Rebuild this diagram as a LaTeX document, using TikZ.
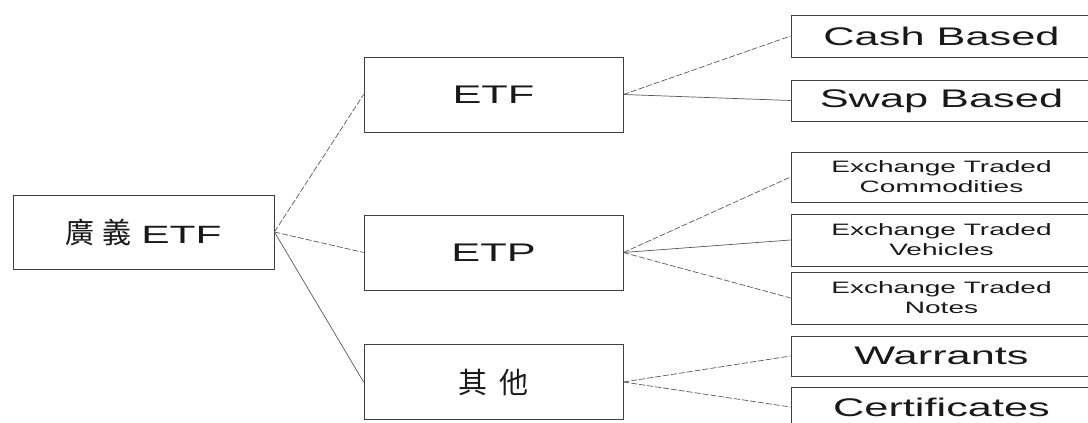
\documentclass[tikz,border=0pt]{standalone}
\usepackage{fontspec}
\usepackage{tikz}
\newfontfamily\cjk{Noto Sans CJK TC}
\newfontfamily\wide[FakeStretch=1.7]{Liberation Sans}
\setmainfont{Liberation Sans}

\begin{document}
\begin{tikzpicture}[x=1pt,y=-1pt,
  box/.style={draw=black!75,line width=0.8pt,inner sep=0pt,minimum width=259pt,minimum height=75pt,text=black!90},
  leaf/.style={draw=black!75,line width=0.8pt,inner sep=0pt,minimum width=301pt,text=black!90,align=center},
  big/.style={font=\wide\fontsize{25.5}{26}\selectfont},
  small/.style={font=\wide\fontsize{16.5}{20}\selectfont},
  link/.style={draw=black!65,line width=0.7pt},
  dlink/.style={link,dash pattern=on 6pt off 2pt}]
\useasboundingbox (0,0) rectangle (1088,423);
\clip (0,0) rectangle (1088,423);

\node[box,minimum width=261pt,minimum height=74pt] (N0) at (143.5,232)
  {{\cjk\fontsize{29}{29}\selectfont 廣\hspace{8pt}義}\hspace{10pt}{\wide\fontsize{25}{25}\selectfont ETF}};
\node[box,big] (N1) at (493.5,94.5) {ETF};
\node[box,big] (N2) at (493.5,252.5) {ETP};
\node[box] (N3) at (493.5,382) {\cjk\fontsize{29}{29}\selectfont 其\hspace{13pt}他};

\node[leaf,big,minimum height=42pt] (N4) at (941.5,36) {Cash Based};
\node[leaf,big,minimum height=41pt] (N5) at (941.5,100.5) {Swap Based};
\node[leaf,small,minimum height=50pt] (N6) at (941.5,177) {Exchange Traded\\Commodities};
\node[leaf,small,minimum height=52pt] (N7) at (941.5,240) {Exchange Traded\\Vehicles};
\node[leaf,small,minimum height=52pt] (N8) at (941.5,298) {Exchange Traded\\Notes};
\node[leaf,big,minimum height=40pt] (N9) at (941.5,356) {Warrants};
\node[leaf,big,minimum height=40pt] (N10) at (941.5,407) {Certificates};

\path[dlink] (N0.east) edge (N1.west) (N0.east) edge (N2.west);
\path[link] (N0.east) edge (N3.west);
\path[dlink] (N1.east) edge (N4.west);
\path[link] (N1.east) edge (N5.west);
\path[dlink] (N2.east) edge (N6.west) (N2.east) edge (N8.west);
\path[link] (N2.east) edge (N7.west);
\path[dlink] (N3.east) edge (N9.west) (N3.east) edge (N10.west);
\end{tikzpicture}
\end{document}
